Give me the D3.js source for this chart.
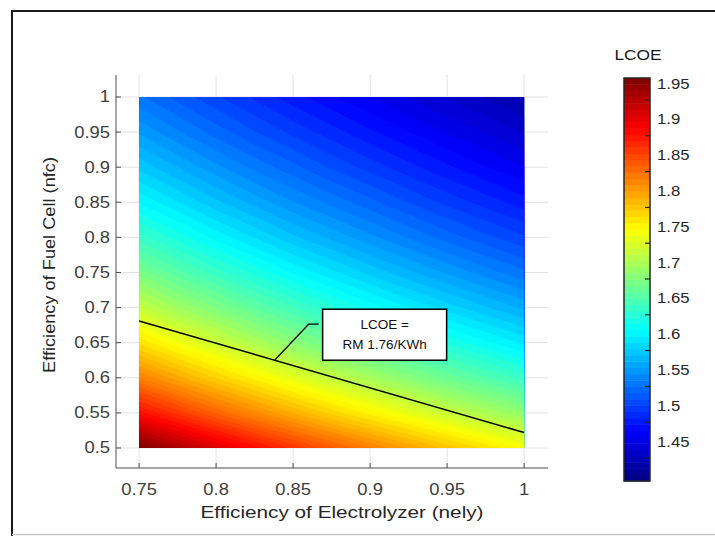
<!DOCTYPE html>
<html>
<head>
<meta charset="utf-8">
<script src="https://cdn.jsdelivr.net/npm/d3@7"></script>
<style>
  body { margin: 0; background: #fff; }
  text { font-family: "Liberation Sans", Arial, sans-serif; }
</style>
</head>
<body>
<script>
// efficiency grid (nely across, nfc down the rows)
const nelyValues = [0.75, 0.775, 0.8, 0.825, 0.85, 0.875, 0.9, 0.925, 0.95, 0.975, 1.0];
const nfcValues = [0.5, 0.55, 0.6, 0.65, 0.7, 0.75, 0.8, 0.85, 0.9, 0.95, 1.0];
const lcoeRows = [
  [1.960, 1.932, 1.906, 1.881, 1.858, 1.837, 1.816, 1.797, 1.778, 1.761, 1.744],
  [1.881, 1.856, 1.832, 1.810, 1.789, 1.769, 1.751, 1.733, 1.716, 1.700, 1.685],
  [1.816, 1.793, 1.771, 1.751, 1.731, 1.713, 1.696, 1.680, 1.664, 1.650, 1.636],
  [1.761, 1.739, 1.719, 1.700, 1.682, 1.666, 1.650, 1.635, 1.621, 1.607, 1.594],
  [1.713, 1.693, 1.675, 1.657, 1.641, 1.625, 1.610, 1.596, 1.583, 1.571, 1.559],
  [1.672, 1.653, 1.636, 1.620, 1.604, 1.590, 1.576, 1.563, 1.551, 1.539, 1.528],
  [1.636, 1.619, 1.602, 1.587, 1.572, 1.559, 1.546, 1.534, 1.522, 1.511, 1.501],
  [1.604, 1.588, 1.572, 1.558, 1.544, 1.532, 1.520, 1.508, 1.497, 1.487, 1.477],
  [1.576, 1.561, 1.546, 1.532, 1.520, 1.507, 1.496, 1.485, 1.475, 1.465, 1.456],
  [1.551, 1.536, 1.522, 1.509, 1.497, 1.486, 1.475, 1.465, 1.455, 1.446, 1.437],
  [1.528, 1.514, 1.501, 1.489, 1.477, 1.466, 1.456, 1.446, 1.437, 1.428, 1.420]
];
const xTicks = [0.75, 0.8, 0.85, 0.9, 0.95, 1];
const yTicks = [0.5, 0.55, 0.6, 0.65, 0.7, 0.75, 0.8, 0.85, 0.9, 0.95, 1];
const cbTicks = [1.95, 1.9, 1.85, 1.8, 1.75, 1.7, 1.65, 1.6, 1.55, 1.5, 1.45];
const contourLine = [[0.75, 0.681], [1.0, 0.522]];
const calloutAt = 0.838;
const calloutText = ["LCOE =", "RM 1.76/KWh"];

const svg = d3.select("body").append("svg")
  .attr("width", 715)
  .attr("height", 536);

// text helper, the figure is stretched sideways a bit
function addText(parent, tx, ty, str, size, anchor, sx, rot) {
  let g = parent.append("g")
    .attr("transform", "translate(" + tx + "," + ty + ")" + (rot ? " rotate(" + rot + ")" : "") + " scale(" + sx + ",1)");
  return g.append("text")
    .attr("text-anchor", anchor)
    .style("font-size", size + "px")
    .text(str);
}

// page frame
svg.append("path")
  .attr("d", "M715,11H12V536")
  .attr("fill", "none")
  .attr("stroke", "#1a1a1a")
  .attr("stroke-width", 2);
svg.append("line")
  .attr("x1", 12).attr("x2", 715)
  .attr("y1", 534.5).attr("y2", 534.5)
  .attr("stroke", "#c8c8c8")
  .attr("stroke-width", 1.5);

let x = d3.scaleLinear().domain([0.735, 1.0155]).range([116, 548]);
let y = d3.scaleLinear().domain([0.4715, 1.0313]).range([468, 75]);

// colorbar: labels scale, tick marks sit 17px lower
let cb = d3.scaleLinear().domain([1.95, 1.45]).range([83, 441]);
let cbTop = 78, cbBottom = 481;
let lo = cb.invert(cbBottom), hi = cb.invert(cbTop);
let nLevels = 64;

function jet(t) {
  let c = v => Math.round(255 * Math.max(0, Math.min(1, v)));
  return d3.rgb(c(1.5 - Math.abs(4 * t - 3)), c(1.5 - Math.abs(4 * t - 2)), c(1.5 - Math.abs(4 * t - 1))).toString();
}
let levelColor = k => jet((k + 0.5) / nLevels);

// grid lines
svg.append("g").selectAll("line")
  .data(xTicks).enter().append("line")
  .attr("x1", d => x(d)).attr("x2", d => x(d))
  .attr("y1", y.range()[1]).attr("y2", y.range()[0])
  .attr("stroke", "#e2e2e2");
svg.append("g").selectAll("line")
  .data(yTicks).enter().append("line")
  .attr("x1", x.range()[0]).attr("x2", x.range()[1])
  .attr("y1", d => y(d)).attr("y2", d => y(d))
  .attr("stroke", "#e2e2e2");

// filled contours
let thresholds = d3.range(nLevels).map(k => lo + k * (hi - lo) / nLevels);
let flat = [].concat(...lcoeRows);
let contours = d3.contours()
  .size([nelyValues.length, nfcValues.length])
  .thresholds(thresholds)(flat);

let gx = d3.scaleLinear().domain([0.5, nelyValues.length - 0.5]).range([nelyValues[0], nelyValues[nelyValues.length - 1]]);
let gy = d3.scaleLinear().domain([0.5, nfcValues.length - 0.5]).range([nfcValues[0], nfcValues[nfcValues.length - 1]]);
let proj = d3.geoTransform({
  point: function(cx, cy) { this.stream.point(x(gx(cx)), y(gy(cy))); }
});

svg.append("clipPath").attr("id", "heatClip")
  .append("rect")
  .attr("x", x(0.75)).attr("y", y(1))
  .attr("width", x(1) - x(0.75))
  .attr("height", y(0.5) - y(1));

let heat = svg.append("g").attr("clip-path", "url(#heatClip)");
heat.append("rect")
  .attr("x", x(0.75)).attr("y", y(1))
  .attr("width", x(1) - x(0.75))
  .attr("height", y(0.5) - y(1))
  .attr("fill", levelColor(0));
heat.selectAll("path")
  .data(contours).enter().append("path")
  .attr("d", d3.geoPath(proj))
  .attr("fill", (d, i) => levelColor(i))
  .attr("stroke", (d, i) => levelColor(i))
  .attr("stroke-width", 0.4);

// axes lines and ticks
let axisColor = "#4d4d4d";
svg.append("line")
  .attr("x1", 116).attr("x2", 116).attr("y1", 75).attr("y2", 468)
  .attr("stroke", axisColor);
svg.append("line")
  .attr("x1", 116).attr("x2", 548).attr("y1", 468).attr("y2", 468)
  .attr("stroke", axisColor);
svg.append("g").selectAll("line")
  .data(xTicks).enter().append("line")
  .attr("x1", d => x(d)).attr("x2", d => x(d))
  .attr("y1", 468).attr("y2", 463)
  .attr("stroke", axisColor);
svg.append("g").selectAll("line")
  .data(yTicks).enter().append("line")
  .attr("x1", 116).attr("x2", 121)
  .attr("y1", d => y(d)).attr("y2", d => y(d))
  .attr("stroke", axisColor);

let labels = svg.append("g").attr("fill", "#404040");
xTicks.forEach(d => addText(labels, x(d), 495, d, 16, "middle", 1.15));
yTicks.forEach(d => addText(labels, 110, y(d) + 5.5, d, 16, "end", 1.15));

let titles = svg.append("g").attr("fill", "#262626");
addText(titles, 342, 518, "Efficiency of Electrolyzer (nely)", 17, "middle", 1.22);
addText(titles, 55, 265, "Efficiency of Fuel Cell (nfc)", 17, "middle", 1.07, -90);

// LCOE contour line and callout
svg.append("path")
  .attr("d", d3.line().x(d => x(d[0])).y(d => y(d[1]))(contourLine))
  .attr("fill", "none")
  .attr("stroke", "#000")
  .attr("stroke-width", 1.5);

let lineAt = d3.scaleLinear().domain([contourLine[0][0], contourLine[1][0]]).range([contourLine[0][1], contourLine[1][1]]);
let px = x(calloutAt), py = y(lineAt(calloutAt));
svg.append("path")
  .attr("d", "M" + px + "," + py + "L" + (px + 34) + "," + (py - 36) + "h10")
  .attr("fill", "none")
  .attr("stroke", "#000")
  .attr("stroke-width", 1.2);
svg.append("rect")
  .attr("x", px + 48).attr("y", py - 51)
  .attr("width", 124).attr("height", 51)
  .attr("fill", "#fff")
  .attr("stroke", "#000")
  .attr("stroke-width", 1.5);
svg.append("g").selectAll("text")
  .data(calloutText).enter().append("text")
  .attr("x", px + 110)
  .attr("y", (d, i) => py - 31 + i * 20)
  .attr("text-anchor", "middle")
  .attr("fill", "#111")
  .style("font-size", "13.5px")
  .text(d => d);

// colorbar
let band = d3.scaleBand().domain(d3.range(nLevels)).range([cbBottom, cbTop]);
svg.append("g").selectAll("rect")
  .data(d3.range(nLevels)).enter().append("rect")
  .attr("x", 624).attr("width", 26)
  .attr("y", d => band(d))
  .attr("height", band.bandwidth() + 0.5)
  .attr("fill", d => levelColor(d));
svg.append("rect")
  .attr("x", 624).attr("y", cbTop)
  .attr("width", 26).attr("height", cbBottom - cbTop)
  .attr("fill", "none")
  .attr("stroke", "#262626")
  .attr("stroke-width", 1.5);
svg.append("g").selectAll("line")
  .data(cbTicks).enter().append("line")
  .attr("x1", 645).attr("x2", 650)
  .attr("y1", d => cb(d) + 17).attr("y2", d => cb(d) + 17)
  .attr("stroke", "#262626")
  .attr("stroke-width", 1.2);
let cbLabels = svg.append("g").attr("fill", "#262626");
cbTicks.forEach(d => addText(cbLabels, 657, cb(d) + 5.5, d, 15.5, "start", 1.08));
addText(svg.append("g").attr("fill", "#1a1a1a"), 638, 60, "LCOE", 15.5, "middle", 1.12);
</script>
</body>
</html>
